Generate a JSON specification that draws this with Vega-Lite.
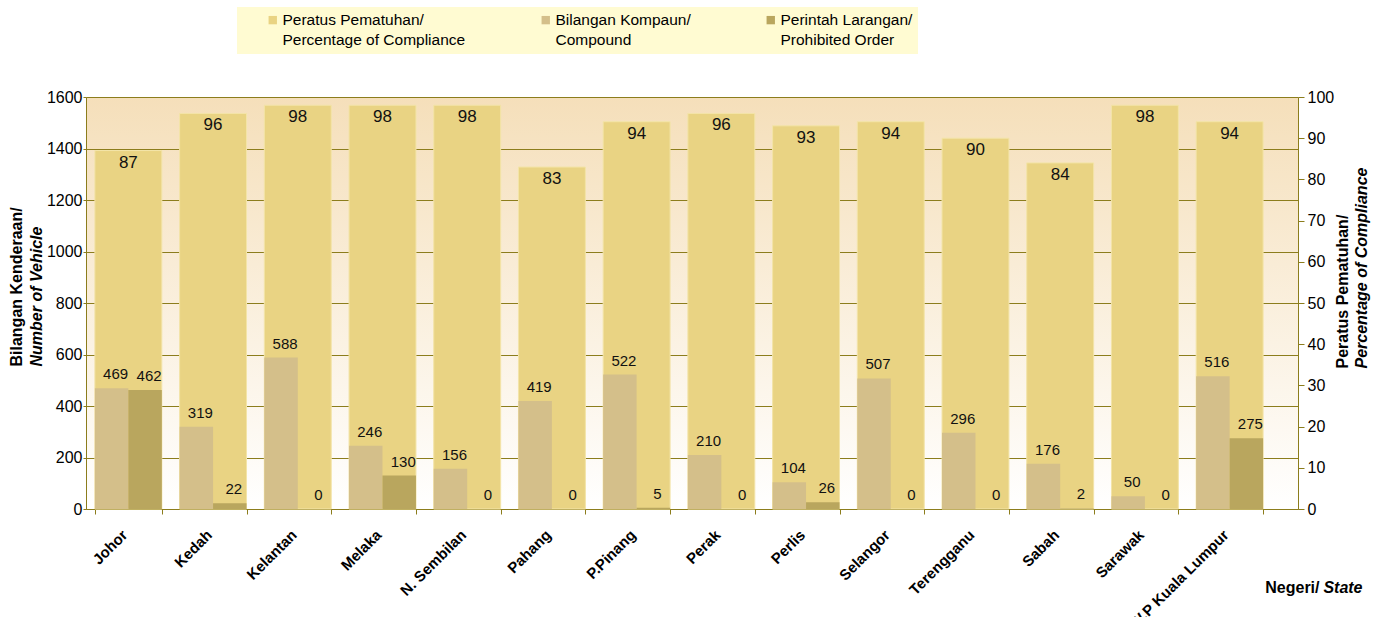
{
  "$schema": "https://vega.github.io/schema/vega-lite/v6.json",
  "width": 1212,
  "height": 412,
  "autosize": {"type": "none"},
  "padding": {"left": 86, "top": 97, "right": 83, "bottom": 108},
  "background": "#FFFFFF",
  "data": {
    "values": [
      {"state": "Johor", "compliance": 87, "compound": 469, "prohibited": 462},
      {"state": "Kedah", "compliance": 96, "compound": 319, "prohibited": 22},
      {"state": "Kelantan", "compliance": 98, "compound": 588, "prohibited": 0},
      {"state": "Melaka", "compliance": 98, "compound": 246, "prohibited": 130},
      {"state": "N. Sembilan", "compliance": 98, "compound": 156, "prohibited": 0},
      {"state": "Pahang", "compliance": 83, "compound": 419, "prohibited": 0},
      {"state": "P.Pinang", "compliance": 94, "compound": 522, "prohibited": 5},
      {"state": "Perak", "compliance": 96, "compound": 210, "prohibited": 0},
      {"state": "Perlis", "compliance": 93, "compound": 104, "prohibited": 26},
      {"state": "Selangor", "compliance": 94, "compound": 507, "prohibited": 0},
      {"state": "Terengganu", "compliance": 90, "compound": 296, "prohibited": 0},
      {"state": "Sabah", "compliance": 84, "compound": 176, "prohibited": 2},
      {"state": "Sarawak", "compliance": 98, "compound": 50, "prohibited": 0},
      {"state": "W.P Kuala Lumpur", "compliance": 94, "compound": 516, "prohibited": 275}
    ]
  },
  "resolve": {"scale": {"x": "independent", "y": "independent"}},
  "layer": [
    {
      "mark": {"type": "bar", "stroke": "#F3E4A8", "strokeWidth": 1},
      "encoding": {
        "x": {
          "field": "state", "type": "nominal", "sort": null,
          "scale": {"type": "band", "paddingInner": 0.21, "paddingOuter": 0.2586, "align": 0.203},
          "axis": {
            "orient": "bottom", "title": "Negeri/", "titleX": 1233, "titleY": 83,
            "titleAlign": "right", "titleBaseline": "alphabetic", "titleAnchor": null,
            "labelAngle": -45, "labelAlign": "right", "labelBaseline": "middle",
            "labelPadding": 18, "labelOffset": -4, "labelFontSize": 15, "labelFontWeight": "bold",
            "tickBand": "extent", "tickSize": 5, "grid": false
          }
        },
        "y": {
          "field": "compliance", "type": "quantitative",
          "scale": {"domain": [0, 100], "nice": false},
          "axis": {
            "orient": "right", "title": "Peratus Pematuhan/", "titleAngle": 270,
            "titleX": 44, "titleY": 271, "titleAlign": "left", "titleBaseline": "middle", "titleAnchor": null,
            "values": [0, 10, 20, 30, 40, 50, 60, 70, 80, 90, 100],
            "tickSize": 6, "labelPadding": 3, "grid": false
          }
        },
        "color": {
          "datum": "compliance", "type": "nominal",
          "scale": {"domain": ["compliance", "compound", "prohibited"], "range": ["#E9D383", "#D4BF8A", "#B9A65E"]},
          "legend": {
            "orient": "none", "legendX": 151, "legendY": -90, "direction": "horizontal", "columns": 3,
            "title": null,
            "fillColor": "#FFFBD2", "padding": 5, "columnPadding": 49,
            "labelFontSize": 15.5, "labelColor": "#000000", "symbolType": "square", "symbolSize": 70,
            "symbolStrokeWidth": 0, "symbolOffset": 23, "labelOffset": 2, "labelLimit": 400,
            "labelExpr": "datum.label == 'compliance' ? ['Peratus Pematuhan/', 'Percentage of Compliance'] : datum.label == 'compound' ? ['Bilangan Kompaun/', 'Compound'] : ['Perintah Larangan/', 'Prohibited Order']"
          }
        }
      }
    },
    {
      "mark": {"type": "text", "baseline": "alphabetic", "dy": 17, "fontSize": 17, "color": "#111111"},
      "encoding": {
        "x": {
          "field": "state", "type": "nominal", "sort": null,
          "scale": {"type": "band", "paddingInner": 0.21, "paddingOuter": 0.2586, "align": 0.203},
          "axis": {
            "orient": "bottom", "title": "State", "titleFontStyle": "italic", "titleX": 1276, "titleY": 83,
            "titleAlign": "right", "titleBaseline": "alphabetic", "titleAnchor": null,
            "labels": false, "ticks": false, "domain": false, "grid": false
          }
        },
        "y": {
          "field": "compliance", "type": "quantitative",
          "scale": {"domain": [0, 100], "nice": false},
          "axis": {
            "orient": "right", "title": "Percentage of Compliance", "titleFontStyle": "italic", "titleAngle": 270,
            "titleX": 63, "titleY": 271, "titleAlign": "left", "titleBaseline": "middle", "titleAnchor": null,
            "labels": false, "ticks": false, "domain": false, "grid": false
          }
        },
        "text": {"field": "compliance", "type": "quantitative"}
      }
    },
    {
      "transform": [{"fold": ["compound", "prohibited"], "as": ["series", "count"]}],
      "mark": {"type": "bar"},
      "encoding": {
        "x": {
          "field": "state", "type": "nominal", "sort": null,
          "scale": {"type": "band", "paddingInner": 0.21, "paddingOuter": 0.2586, "align": 0.203},
          "axis": null
        },
        "xOffset": {"field": "series", "type": "nominal", "scale": {"type": "band", "domain": ["compound", "prohibited"], "paddingInner": 0, "paddingOuter": 0}},
        "y": {
          "field": "count", "type": "quantitative",
          "scale": {"domain": [0, 1600], "nice": false},
          "axis": {
            "orient": "left", "title": "Bilangan Kenderaan/", "titleAngle": 270, "format": "d",
            "titleX": -70, "titleY": 269, "titleAlign": "left", "titleBaseline": "middle", "titleAnchor": null,
            "values": [0, 200, 400, 600, 800, 1000, 1200, 1400, 1600],
            "tickSize": 3, "labelPadding": 1, "grid": true
          }
        },
        "color": {"field": "series", "type": "nominal", "legend": {"title": null}}
      }
    },
    {
      "transform": [{"fold": ["compound", "prohibited"], "as": ["series", "count"]}],
      "mark": {"type": "text", "baseline": "alphabetic", "dy": -9, "dx": 4, "fontSize": 15, "color": "#111111"},
      "encoding": {
        "x": {
          "field": "state", "type": "nominal", "sort": null,
          "scale": {"type": "band", "paddingInner": 0.21, "paddingOuter": 0.2586, "align": 0.203},
          "axis": null
        },
        "xOffset": {"field": "series", "type": "nominal", "scale": {"type": "band", "domain": ["compound", "prohibited"], "paddingInner": 0, "paddingOuter": 0}},
        "y": {
          "field": "count", "type": "quantitative",
          "scale": {"domain": [0, 1600], "nice": false},
          "axis": {
            "orient": "left", "title": "Number of Vehicle", "titleFontStyle": "italic", "titleAngle": 270,
            "titleX": -50, "titleY": 269, "titleAlign": "left", "titleBaseline": "middle", "titleAnchor": null,
            "labels": false, "ticks": false, "domain": false, "grid": false
          }
        },
        "text": {"field": "count", "type": "quantitative"}
      }
    }
  ],
  "config": {
    "font": "Liberation Sans",
    "style": {"guide-label": {"lineHeight": 20}},
    "view": {
      "stroke": null,
      "fill": {
        "gradient": "linear", "x1": 0, "y1": 0, "x2": 0, "y2": 1,
        "stops": [{"offset": 0, "color": "#F5DFBA"}, {"offset": 1, "color": "#FFFFFF"}]
      }
    },
    "axis": {
      "labelFontSize": 16, "labelColor": "#000000", "labelFont": "Liberation Sans",
      "titleFontSize": 16, "titleFontWeight": "bold", "titleColor": "#000000", "titleFont": "Liberation Sans",
      "domainColor": "#8C7D1C", "tickColor": "#8C7D1C", "gridColor": "#8C7D1C", "gridOpacity": 1,
      "domainWidth": 1, "tickWidth": 1, "gridWidth": 1
    },
    "legend": {"labelFont": "Liberation Sans"}
  }
}
